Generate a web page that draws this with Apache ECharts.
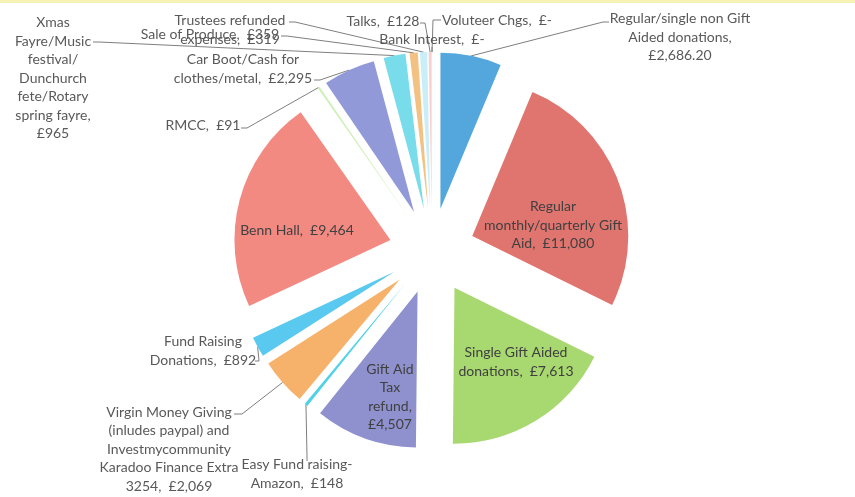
<!DOCTYPE html>
<html><head><meta charset="utf-8">
<script src="https://cdn.jsdelivr.net/npm/echarts@6/dist/echarts.min.js"></script>
<style>html,body{margin:0;padding:0;background:#fff}#chart{width:855px;height:497px}</style>
</head><body><div id="chart"></div>
<script>
// ---- data ----
const categories = [
  'Regular/single non Gift Aided donations',
  'Regular monthly/quarterly Gift Aid',
  'Single Gift Aided donations',
  'Gift Aid Tax refund',
  'Easy Fund raising-Amazon',
  'Virgin Money Giving (inludes paypal) and Investmycommunity Karadoo Finance Extra 3254',
  'Fund Raising Donations',
  'Benn Hall',
  'RMCC',
  'Car Boot/Cash for clothes/metal',
  'Xmas Fayre/Music festival/ Dunchurch fete/Rotary spring fayre',
  'Sale of Produce',
  'Trustees refunded expenses',
  'Talks',
  'Bank Interest',
  'Voluteer Chgs'
];
const values = [2686.20, 11080, 7613, 4507, 148, 2069, 892, 9464, 91, 2295, 965, 359, 319, 128, 0, 0];
const labelTexts = [
  'Regular/single non Gift\nAided donations,\n£2,686.20',
  'Regular\nmonthly/quarterly Gift\nAid,  £11,080',
  'Single Gift Aided\ndonations,  £7,613',
  'Gift Aid\nTax\nrefund,\n£4,507',
  'Easy Fund raising-\nAmazon,  £148',
  'Virgin Money Giving\n(inludes paypal) and\nInvestmycommunity\nKaradoo Finance Extra\n3254,  £2,069',
  'Fund Raising\nDonations,  £892',
  'Benn Hall,  £9,464',
  'RMCC,  £91',
  'Car Boot/Cash for\nclothes/metal,  £2,295',
  'Xmas\nFayre/Music\nfestival/\nDunchurch\nfete/Rotary\nspring fayre,\n£965',
  'Sale of Produce,  £359',
  'Trustees refunded\nexpenses,  £319',
  'Talks,  £128',
  'Bank Interest,  £-',
  'Voluteer Chgs,  £-'
];
const colors = ['#54a7dc', '#e0746e', '#a8d870', '#8e91ce', '#4fd2e6', '#f6b26a',
                '#5ac9ef', '#f28a82', '#cdf0b8', '#9199d8', '#78dcea', '#f3c182',
                '#c9eef8', '#f7cfd0', '#cccccc', '#cccccc'];

// ---- layout ----
const CX = 432, CY = 251, R = 156, EXPLODE = 43;
const insideLabel = [false, true, true, true, false, false, false, true, false, false, false, false, false, false, false, false];
const labelPos = [[680, 37], [553, 225], [516, 362], [390, 397], [297, 474], [169, 449], [203, 351],
                  [297, 230], [203, 125], [243, 69], [53, 78], [210, 34], [230, 30], [383, 21], [432, 39], [497, 20]];
// leader line: [label end point, bend point] (null = no line)
const leader = [
  [[609, 22], [603, 22]], null, null, null,
  [[307, 461], [307, 456]],
  [[234, 414], [242, 414]],
  [[255, 361], [259, 361]],
  null,
  [[241, 128], [247, 128]],
  [[314, 80], [320, 80]],
  [[93, 42], [99, 42]],
  [[281, 36], [287, 36]],
  [[289, 22], [295, 22]],
  [[420, 23], [425, 23]],
  [[432, 47], [432, 49]],
  [[441, 20], [433, 20]]
];
const FONT = 'Lato';

const chart = echarts.init(document.getElementById('chart'));
const total = values.reduce((a, b) => a + b, 0);
let cum = 0;
const series = values.map((v, i) => {
  const mid = (cum + v / 2) / total * 2 * Math.PI;
  cum += v;
  const center = [CX + EXPLODE * Math.sin(mid), CY - EXPLODE * Math.cos(mid)];
  const arcMid = [center[0] + R * Math.sin(mid), center[1] - R * Math.cos(mid)];
  return {
    type: 'pie',
    radius: R,
    center: center,
    startAngle: 90,
    clockwise: true,
    avoidLabelOverlap: false,
    minShowLabelAngle: 0,
    silent: true,
    animation: false,
    emphasis: { disabled: true },
    data: categories.map((name, j) => ({
      name: name,
      value: values[j],
      itemStyle: { color: j === i ? colors[j] : 'rgba(0,0,0,0)', borderWidth: 0 },
      label: { show: j === i },
      labelLine: { show: j === i && !insideLabel[j] }
    })),
    label: {
      position: insideLabel[i] ? 'inside' : 'outside',
      formatter: p => labelTexts[p.dataIndex],
      fontFamily: FONT,
      fontSize: 14,
      lineHeight: 18.5,
      color: insideLabel[i] ? '#404040' : '#595959',
      align: 'center'
    },
    labelLine: { length: 6, length2: 6, lineStyle: { color: '#7f7f7f', width: 1 } },
    labelLayout: p => {
      if (p.dataIndex !== i) return {};
      const res = { x: labelPos[i][0], y: labelPos[i][1], align: 'center', verticalAlign: 'middle' };
      if (leader[i]) res.labelLinePoints = [arcMid, leader[i][1], leader[i][0]];
      return res;
    }
  };
});

chart.setOption({
  backgroundColor: '#ffffff',
  animation: false,
  graphic: [
    { type: 'rect', shape: { x: 0, y: 0, width: 855, height: 3 }, style: { fill: '#f6f1b4' }, silent: true }
  ],
  series: series
});
</script>
</body></html>
